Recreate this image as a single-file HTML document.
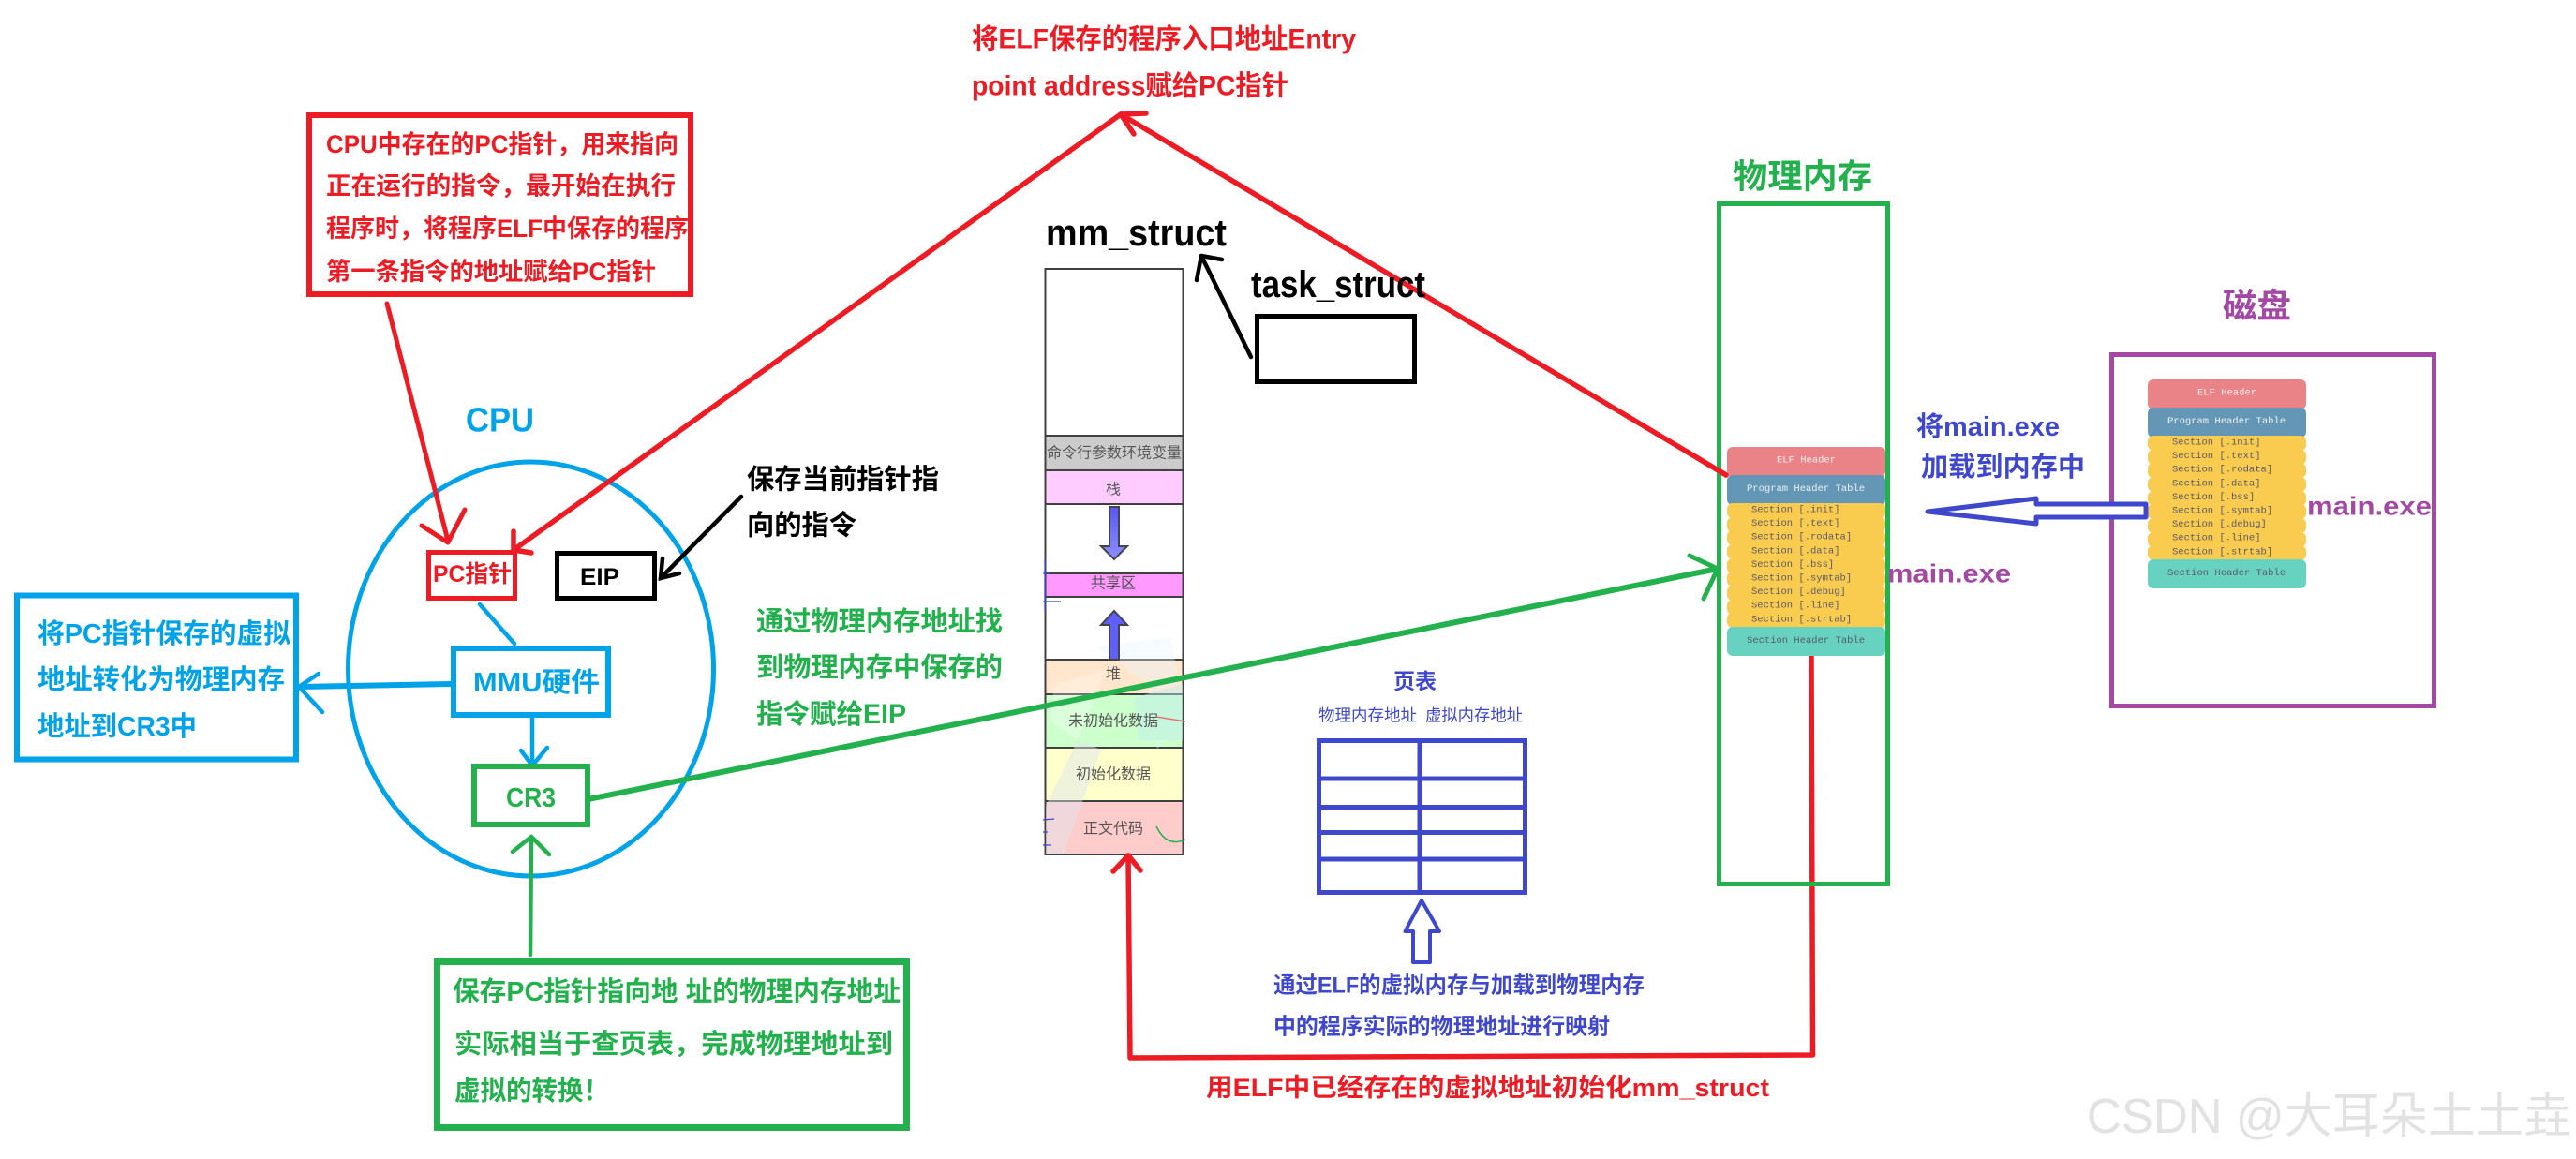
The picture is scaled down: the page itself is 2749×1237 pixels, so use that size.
<!DOCTYPE html>
<html><head><meta charset="utf-8"><style>
html,body{margin:0;padding:0;background:#fff}
svg{display:block}
text{font-family:"Liberation Sans","Noto Sans CJK SC",sans-serif;font-weight:700;dominant-baseline:central}
.m text{font-family:"Liberation Mono","DejaVu Sans Mono",monospace;font-weight:400;font-size:10.5px}
.s text{font-weight:400;font-size:16px;fill:#555;text-anchor:middle}
</style></head><body>
<svg xmlns="http://www.w3.org/2000/svg" width="2749" height="1237" viewBox="0 0 2749 1237">
<rect width="2749" height="1237" fill="#fff"/>

<!-- top red box -->
<rect x="330" y="123" width="407" height="191" fill="none" stroke="#ed1c24" stroke-width="6"/>
<g fill="#ed1c24" font-size="26.5">
<text x="348" y="154" textLength="376" lengthAdjust="spacingAndGlyphs">CPU中存在的PC指针，用来指向</text>
<text x="348" y="198.5" textLength="373" lengthAdjust="spacingAndGlyphs">正在运行的指令，最开始在执行</text>
<text x="348" y="244" textLength="387" lengthAdjust="spacingAndGlyphs">程序时，将程序ELF中保存的程序</text>
<text x="348" y="290" textLength="352" lengthAdjust="spacingAndGlyphs">第一条指令的地址赋给PC指针</text>
</g>
<text x="497" y="448" font-size="36" fill="#00a2e8" textLength="73" lengthAdjust="spacingAndGlyphs">CPU</text>

<!-- CPU ellipse -->
<ellipse cx="566.5" cy="714" rx="195" ry="221" fill="none" stroke="#00a2e8" stroke-width="5"/>

<!-- PC / EIP -->
<rect x="457.5" y="589.5" width="92" height="49" fill="none" stroke="#ed1c24" stroke-width="5"/>
<text x="462" y="613" font-size="25" fill="#ed1c24" textLength="84" lengthAdjust="spacingAndGlyphs">PC指针</text>
<rect x="594.5" y="590.5" width="104" height="48" fill="none" stroke="#000" stroke-width="5"/>
<text x="619" y="616" font-size="25" fill="#000" textLength="42" lengthAdjust="spacingAndGlyphs">EIP</text>

<!-- red arrow box->PC -->
<g fill="none" stroke="#ed1c24" stroke-width="5" stroke-linecap="round" stroke-linejoin="round">
<path d="M413 324 L478 577"/><path d="M450 561 L478 579 L496 544"/>
</g>
<g fill="none" stroke="#ed1c24" stroke-width="5.5" stroke-linecap="round" stroke-linejoin="round">
<path d="M548 587 L1196 122"/>
<path d="M548 567 L548 587 L567 590"/>
<path d="M1196 122 L1842 507"/>
<path d="M1210 143 L1196 122 L1223 121"/>
</g>

<!-- black arrow text->EIP -->
<g fill="none" stroke="#000" stroke-width="4.5" stroke-linecap="round">
<path d="M791 530 L705 617"/><path d="M707 596 L705 617 L725 612"/>
</g>
<g fill="#000" font-size="29.3">
<text x="797" y="512" textLength="205" lengthAdjust="spacingAndGlyphs">保存当前指针指</text>
<text x="797" y="561" textLength="117" lengthAdjust="spacingAndGlyphs">向的指令</text>
</g>

<!-- left blue box -->
<rect x="18" y="635.5" width="298" height="175" fill="none" stroke="#00a2e8" stroke-width="6"/>
<g fill="#00a2e8" font-size="29">
<text x="40" y="677" textLength="270" lengthAdjust="spacingAndGlyphs">将PC指针保存的虚拟</text>
<text x="40" y="726" textLength="264" lengthAdjust="spacingAndGlyphs">地址转化为物理内存</text>
<text x="40" y="776" textLength="170" lengthAdjust="spacingAndGlyphs">地址到CR3中</text>
</g>

<!-- MMU -->
<rect x="484" y="692" width="165" height="71" fill="none" stroke="#00a2e8" stroke-width="6"/>
<text x="505" y="729" font-size="29" fill="#00a2e8" textLength="135" lengthAdjust="spacingAndGlyphs">MMU硬件</text>
<g fill="none" stroke="#00a2e8" stroke-width="4.5" stroke-linecap="round" stroke-linejoin="round">
<path d="M512 645 L549 687"/>
<path d="M481 730 L319 733" stroke-width="6"/>
<path d="M340 719 L319 733 L344 760"/>
<path d="M568 766 L568 817"/>
<path d="M556 801 L568 817 L584 798"/>
</g>

<!-- CR3 -->
<rect x="506" y="818" width="121" height="62" fill="none" stroke="#22b14c" stroke-width="6"/>
<text x="540" y="852" font-size="29" fill="#22b14c" textLength="53" lengthAdjust="spacingAndGlyphs">CR3</text>

<!-- green text -->
<g fill="#22b14c" font-size="29.2">
<text x="807" y="664" textLength="263" lengthAdjust="spacingAndGlyphs">通过物理内存地址找</text>
<text x="807" y="713" textLength="263" lengthAdjust="spacingAndGlyphs">到物理内存中保存的</text>
<text x="807" y="763" textLength="160" lengthAdjust="spacingAndGlyphs">指令赋给EIP</text>
</g>

<!-- green bottom box -->
<rect x="466.5" y="1026.5" width="501" height="177" fill="none" stroke="#22b14c" stroke-width="7"/>
<g fill="#22b14c" font-size="29">
<text x="483" y="1059" textLength="478" lengthAdjust="spacingAndGlyphs">保存PC指针指向地 址的物理内存地址</text>
<text x="485" y="1115" textLength="468" lengthAdjust="spacingAndGlyphs">实际相当于查页表，完成物理地址到</text>
<text x="485" y="1165" textLength="165" lengthAdjust="spacingAndGlyphs">虚拟的转换！</text>
</g>
<g fill="none" stroke="#22b14c" stroke-width="4.5" stroke-linecap="round" stroke-linejoin="round">
<path d="M566 1019 L567 893"/><path d="M547 909 L567 893 L586 912"/>
</g>

<!-- top text -->
<g fill="#ed1c24" font-size="29.3">
<text x="1037" y="42" textLength="410" lengthAdjust="spacingAndGlyphs">将ELF保存的程序入口地址Entry</text>
<text x="1037" y="92" textLength="338" lengthAdjust="spacingAndGlyphs">point address赋给PC指针</text>
</g>

<!-- mm_struct -->
<text x="1116" y="249" font-size="40" fill="#000" textLength="193" lengthAdjust="spacingAndGlyphs">mm_struct</text>
<text x="1335" y="304" font-size="40" fill="#000" textLength="186" lengthAdjust="spacingAndGlyphs">task_struct</text>
<rect x="1341.5" y="337.5" width="168" height="70" fill="none" stroke="#000" stroke-width="5"/>
<g fill="none" stroke="#000" stroke-width="4.5" stroke-linecap="round" stroke-linejoin="round">
<path d="M1335 381 L1282 273"/><path d="M1277 299 L1282 273 L1304 277"/>
</g>

<!-- stack -->
<g stroke="#404040" stroke-width="2">
<rect x="1115.500" y="287" width="147" height="178" fill="#fff"/>
<rect x="1115.500" y="465" width="147" height="37" fill="#cccccc"/>
<rect x="1115.500" y="502" width="147" height="36" fill="#ffccff"/>
<rect x="1115.500" y="538" width="147" height="74" fill="#fff"/>
<rect x="1115.500" y="612" width="147" height="25" fill="#ff99ff"/>
<rect x="1115.500" y="637" width="147" height="67" fill="#fff"/>
<rect x="1115.500" y="704" width="147" height="37" fill="#ffe6cc"/>
<rect x="1115.500" y="741" width="147" height="57" fill="#ccffcc"/>
<rect x="1115.500" y="798" width="147" height="57" fill="#ffffcc"/>
<rect x="1115.500" y="855" width="147" height="57" fill="#ffcccc"/>
</g>
<!-- faint watermark in stack -->
<g opacity=".45">
<path d="M1170 690 L1250 680 L1262 760 L1235 800 L1225 730 Z" fill="#e3f4ff" opacity=".8"/>
<path d="M1116 860 L1150 790 L1175 800 L1135 912 L1116 912 Z" fill="#dfe6ee"/>
<path d="M1125 730 L1180 715 L1150 790 L1120 770 Z" fill="#ffffff" opacity=".6"/>
<path d="M1210 745 L1262 730 L1262 790 L1215 790 Z" fill="#bfeef0"/>
</g>
<g class="s">
<text x="1189" y="484" font-size="16" textLength="144" lengthAdjust="spacingAndGlyphs">命令行参数环境变量</text>
<text x="1188" y="523">栈</text>
<text x="1188" y="623" fill="#444">共享区</text>
<text x="1188" y="720">堆</text>
<text x="1188" y="770">未初始化数据</text>
<text x="1188" y="827">初始化数据</text>
<text x="1188" y="885">正文代码</text>
</g>
<defs><linearGradient id="g" x1="0" y1="0" x2="0" y2="1"><stop offset="0" stop-color="#5555ff"/><stop offset="1" stop-color="#8f8fff"/></linearGradient></defs>
<path d="M1184 541 H1194 V583 H1203 L1189 597 L1175 583 H1184 Z" fill="url(#g)" stroke="#444" stroke-width="2"/>
<path d="M1184 704 H1194 V667 H1203 L1189 652 L1175 667 H1184 Z" fill="#5f5fff" stroke="#444" stroke-width="2"/>

<!-- small pen marks -->
<g fill="none" stroke="#3f48cc" stroke-width="1.3">
<path d="M1115 595 V653 M1113 612 H1120 M1113 642 H1132 M1113 875 L1125 874 M1113 888 H1118 M1113 902 H1122"/>
</g>
<path d="M1234 765 L1265 770" stroke="#e57373" stroke-width="1.5" fill="none"/>
<path d="M1234 882 Q1245 905 1265 896" stroke="#22b14c" stroke-width="1.5" fill="none"/>

<!-- page table -->
<text x="1487" y="727" font-size="23" fill="#3f48cc" textLength="46" lengthAdjust="spacingAndGlyphs">页表</text>
<text x="1407" y="763.500" font-size="17.500" fill="#3f48cc" style="font-weight:400" textLength="105" lengthAdjust="spacingAndGlyphs">物理内存地址</text>
<text x="1521" y="763.500" font-size="17.500" fill="#3f48cc" style="font-weight:400" textLength="104" lengthAdjust="spacingAndGlyphs">虚拟内存地址</text>
<g fill="none" stroke="#3f48cc" stroke-width="5">
<rect x="1407.500" y="790.500" width="220" height="162"/>
<path d="M1515 790 V953 M1407 831 H1628 M1407 861.500 H1628 M1407 888.500 H1628 M1407 917 H1628"/>
</g>
<path d="M1517 961 L1536 994 H1526 V1027 H1508 V994 H1499.500 Z" fill="#fff" stroke="#3f48cc" stroke-width="4" stroke-linejoin="round"/>
<g fill="#3f48cc" font-size="24">
<text x="1359" y="1052" textLength="396" lengthAdjust="spacingAndGlyphs">通过ELF的虚拟内存与加载到物理内存</text>
<text x="1359" y="1096" textLength="359" lengthAdjust="spacingAndGlyphs">中的程序实际的物理地址进行映射</text>
</g>

<!-- bottom red loop -->
<g fill="none" stroke="#ed1c24" stroke-width="5.500" stroke-linecap="round" stroke-linejoin="round">
<path d="M1933 698 L1934.500 1126 L1206 1129 L1204 913"/>
<path d="M1188 930 L1204 913 L1217 929"/>
</g>
<text x="1287" y="1161" font-size="27" fill="#ed1c24" textLength="601" lengthAdjust="spacingAndGlyphs">用ELF中已经存在的虚拟地址初始化mm_struct</text>

<!-- physical memory -->
<text x="1849" y="188" font-size="36" fill="#22b14c" textLength="149" lengthAdjust="spacingAndGlyphs">物理内存</text>
<rect x="1834.500" y="217.500" width="180" height="726" fill="none" stroke="#22b14c" stroke-width="5"/>

<!-- ELF in memory -->
<g class="m">
<rect x="1843" y="477" width="169" height="32" rx="6" fill="#e98387"/>
<rect x="1843" y="507" width="169" height="32" rx="6" fill="#6497b5"/>
<g fill="#f9cb4f">
<rect x="1843" y="537" width="169" height="16" rx="6"/><rect x="1843" y="552" width="169" height="16" rx="6"/><rect x="1843" y="566" width="169" height="16" rx="6"/><rect x="1843" y="581" width="169" height="16" rx="6"/><rect x="1843" y="596" width="169" height="16" rx="6"/><rect x="1843" y="610" width="169" height="16" rx="6"/><rect x="1843" y="625" width="169" height="16" rx="6"/><rect x="1843" y="640" width="169" height="16" rx="6"/><rect x="1843" y="654" width="169" height="16" rx="6"/>
</g>
<rect x="1843" y="669" width="169" height="31" rx="6" fill="#68d2c0"/>
<text x="1896" y="491.500" fill="#f8f0f0">ELF Header</text>
<text x="1864" y="522" fill="#eaf2f6">Program Header Table</text>
<g fill="#5a5a6a">
<text x="1869" y="544.500">Section [.init]</text>
<text x="1869" y="559">Section [.text]</text>
<text x="1869" y="573.500">Section [.rodata]</text>
<text x="1869" y="588.500">Section [.data]</text>
<text x="1869" y="603">Section [.bss]</text>
<text x="1869" y="617.500">Section [.symtab]</text>
<text x="1869" y="632">Section [.debug]</text>
<text x="1869" y="646.500">Section [.line]</text>
<text x="1869" y="661.500">Section [.strtab]</text>
<text x="1864" y="684">Section Header Table</text>
</g>
</g>
<!-- red endpoint over ELF -->
<path d="M1842 507 L1800 482" stroke="#ed1c24" stroke-width="5.500" fill="none" stroke-linecap="round"/>

<!-- green arrow CR3->mem -->
<g fill="none" stroke="#22b14c" stroke-width="6" stroke-linecap="round" stroke-linejoin="round">
<path d="M628 853 L1833 607"/>
<path d="M1803 593 L1833 607 L1818 639" stroke-width="5"/>
</g>
<text x="2014" y="612" font-size="28" fill="#a349a4" textLength="132" lengthAdjust="spacingAndGlyphs">main.exe</text>

<!-- disk -->
<text x="2372" y="326" font-size="36" fill="#a349a4" textLength="73" lengthAdjust="spacingAndGlyphs">磁盘</text>
<rect x="2253.500" y="378.500" width="344" height="375" fill="none" stroke="#a349a4" stroke-width="5"/>
<g class="m">
<rect x="2292" y="405" width="169" height="32" rx="6" fill="#e98387"/>
<rect x="2292" y="435" width="169" height="32" rx="6" fill="#6497b5"/>
<g fill="#f9cb4f">
<rect x="2292" y="465" width="169" height="16" rx="6"/><rect x="2292" y="480" width="169" height="16" rx="6"/><rect x="2292" y="494" width="169" height="16" rx="6"/><rect x="2292" y="509" width="169" height="16" rx="6"/><rect x="2292" y="524" width="169" height="16" rx="6"/><rect x="2292" y="538" width="169" height="16" rx="6"/><rect x="2292" y="553" width="169" height="16" rx="6"/><rect x="2292" y="568" width="169" height="16" rx="6"/><rect x="2292" y="582" width="169" height="16" rx="6"/>
</g>
<rect x="2292" y="597" width="169" height="31" rx="6" fill="#68d2c0"/>
<text x="2345" y="419.500" fill="#f8f0f0">ELF Header</text>
<text x="2313" y="450" fill="#eaf2f6">Program Header Table</text>
<g fill="#5a5a6a">
<text x="2318" y="472.500">Section [.init]</text>
<text x="2318" y="487">Section [.text]</text>
<text x="2318" y="501.500">Section [.rodata]</text>
<text x="2318" y="516.500">Section [.data]</text>
<text x="2318" y="531">Section [.bss]</text>
<text x="2318" y="545.500">Section [.symtab]</text>
<text x="2318" y="560">Section [.debug]</text>
<text x="2318" y="574.500">Section [.line]</text>
<text x="2318" y="589.500">Section [.strtab]</text>
<text x="2313" y="612">Section Header Table</text>
</g>
</g>
<text x="2462" y="540" font-size="28" fill="#a349a4" textLength="133" lengthAdjust="spacingAndGlyphs">main.exe</text>

<g fill="#3f48cc" font-size="29">
<text x="2045" y="456" textLength="153" lengthAdjust="spacingAndGlyphs">将main.exe</text>
<text x="2050" y="499" textLength="175" lengthAdjust="spacingAndGlyphs">加载到内存中</text>
</g>
<path d="M2057 546 L2173 532 V538 H2290 V552 H2173 V559 Z" fill="#fff" stroke="#3f48cc" stroke-width="5" stroke-linejoin="round"/>

<!-- watermark -->
<text x="2227" y="1192" font-size="52" fill="#e2e2e2" style="font-weight:400" textLength="517" lengthAdjust="spacingAndGlyphs">CSDN @大耳朵土土垚</text>
</svg>
</body></html>
